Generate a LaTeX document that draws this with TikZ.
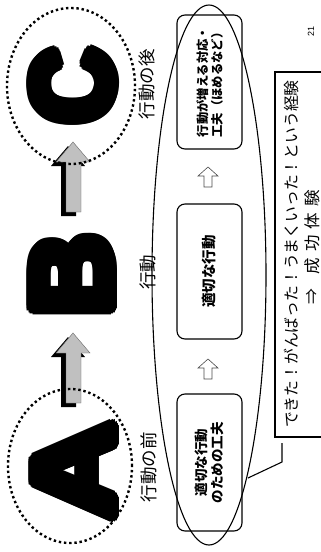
\documentclass[tikz,border=0pt]{standalone}
\usepackage{graphicx}
\usepackage{fontspec}
\newfontfamily\jp{Noto Sans CJK JP}
\newfontfamily\lsans{Liberation Sans}
\definecolor{argray}{RGB}{192,192,192}
\newcommand\bigLet[4]{%
  \foreach \dx/\dy in {0/0,6/0,-6/0,0/6,0/-6,4.2/4.2,-4.2/4.2,4.2/-4.2,-4.2/-4.2,5.5/2.3,-5.5/2.3,5.5/-2.3,-5.5/-2.3,2.3/5.5,-2.3/5.5,2.3/-5.5,-2.3/-5.5,3/0,-3/0,0/3,0/-3}{%
    \node[bigletter] at ([shift={(\dx,\dy)}]#1,#2) {\scalebox{#4}[1]{#3}};
  }}
\newcommand\grArrow[3]{%
  \fill[black] ([shift={(-5,4)}]#1-17,#2+20) -- ([shift={(-5,4)}]#1,#2) -- ([shift={(-5,4)}]#1+17,#2+20) -- ([shift={(-5,4)}]#1+8,#2+20) -- ([shift={(-5,4)}]#1+8,#3) -- ([shift={(-5,4)}]#1-7,#3) -- ([shift={(-5,4)}]#1-7,#2+20) -- cycle;
  \filldraw[fill=argray, draw=black!60, line width=0.4pt] (#1-17,#2+20) -- (#1,#2) -- (#1+17,#2+20) -- (#1+8,#2+20) -- (#1+8,#3) -- (#1-7,#3) -- (#1-7,#2+20) -- cycle;
}
\newcommand\hArrow[2]{%
  \draw[harr] (#1-10,#2+9) -- (#1,#2) -- (#1+10,#2+9) -- (#1+4,#2+9) -- (#1+4,#2+20) -- (#1-4,#2+20) -- (#1-4,#2+9) -- cycle;
}
\tikzset{
  bigletter/.style={rotate=90, inner sep=0pt, font=\lsans\bfseries\fontsize{114}{114}\selectfont},
  dotring/.style={line width=2.4pt, dash pattern=on 2.4pt off 2.8pt},
  harr/.style={draw=black!70, line width=0.6pt, fill=white},
  stepbox/.style={draw, line width=1.1pt, rounded corners=8pt, rotate=90, minimum height=65pt, align=center, inner sep=2pt, font=\jp\bfseries},
  lab/.style={rotate=90, inner sep=0pt, font=\jp\fontsize{17.5}{17.5}\selectfont},
  ctext/.style={rotate=90, inner sep=0pt, font=\jp\fontsize{15.8}{15.8}\selectfont}
}
\begin{document}
\begin{tikzpicture}[x={(1pt,0)}, y={(0,-1pt)}]
\useasboundingbox (0,0) rectangle (321,552);
\clip (0,0) rectangle (321,552);
\fill[white] (0,0) rectangle (321,552);

% big letters
\bigLet{74}{471}{A}{1.2}
\bigLet{72}{275}{B}{1.0}
\bigLet{73}{86}{C}{0.92}

% gray 3D arrows
\grArrow{73}{333}{403}
\grArrow{73}{142}{212}

% dotted rings
\draw[dotring] (70,466) ellipse [x radius=62pt, y radius=77pt];
\draw[dotring] (71,86) ellipse [x radius=64pt, y radius=78pt];

% labels
\node[lab] (lbefore) at (149,467) {行動の前};
\node[lab] (lact) at (148,272) {行動};
\node[lab] (lafter) at (147,84) {行動の後};

% step boxes
\node[stepbox, minimum width=137pt, font=\jp\bfseries\fontsize{13.5}{16.5}\selectfont] (b1) at (209.5,462.5) {適切な行動\\のための工夫};
\node[stepbox, minimum width=135pt, font=\jp\bfseries\fontsize{14.5}{17}\selectfont] (b2) at (209.5,271.5) {適切な行動};
\node[stepbox, minimum width=134pt, font=\jp\bfseries\fontsize{12.3}{14.5}\selectfont] (b3) at (209.5,82) {行動が増える対応・\\工夫（ほめるなど）};

% hollow arrows between boxes
\hArrow{208}{359}
\hArrow{208}{167}

% big ellipse
\draw[line width=1.1pt] (209,275) ellipse [x radius=57pt, y radius=270pt];

% callout
\draw[line width=1.1pt] (275,72) rectangle (340,437);
\coordinate (cpA) at (282,443);
\coordinate (cpB) at (282,462);
\coordinate (cpC) at (248,478);
\draw[line width=1.1pt] (cpA) -- (cpB) -- (cpC);
\node[ctext] (ct1) at (291,254) {できた！がんばった！うまくいった！という経験};
\node[ctext] (ct2a) at (312,297) {⇒};
\node[ctext, font=\jp\fontsize{16.5}{16.5}\selectfont] (ct2b) at (312,232) {成\hspace{6pt}功\hspace{6pt}体\hspace{6pt}験};

% page number
\node[rotate=90, inner sep=0pt, font=\lsans\fontsize{9}{9}\selectfont] (pg) at (311,31) {21};
\end{tikzpicture}
\end{document}
